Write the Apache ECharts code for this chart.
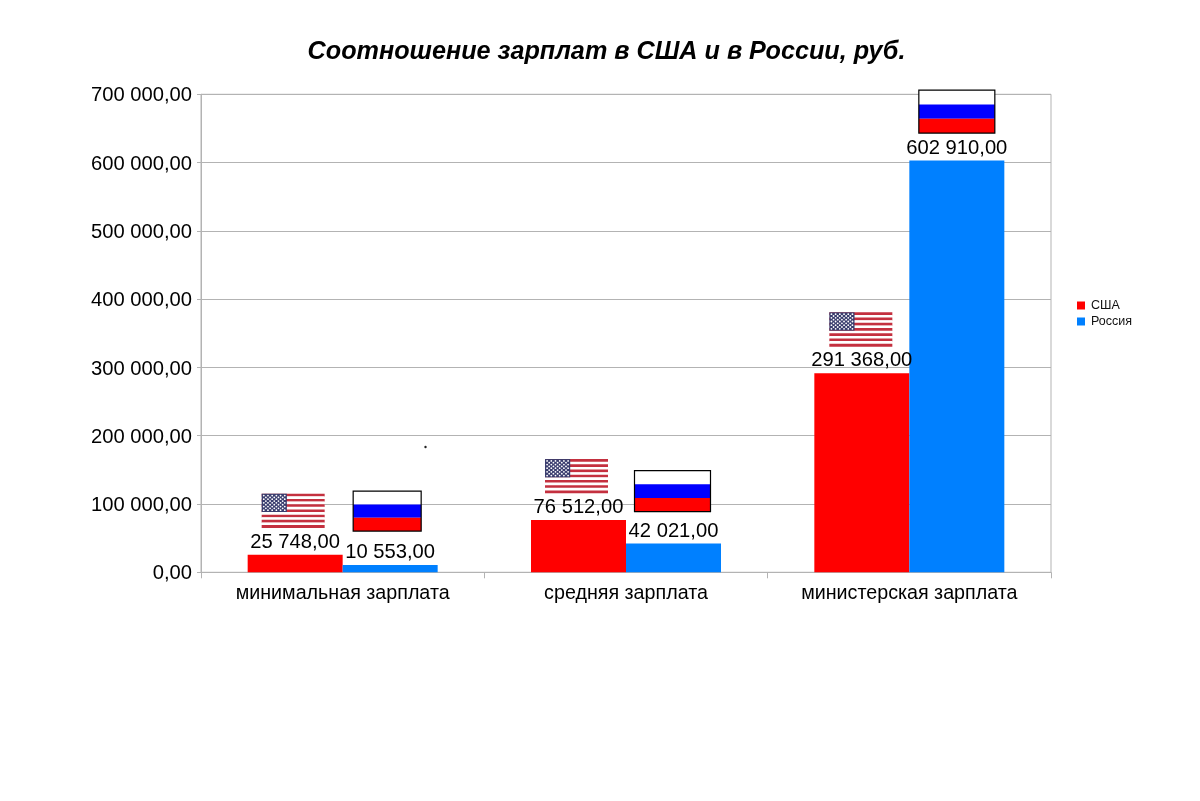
<!DOCTYPE html>
<html>
<head>
<meta charset="utf-8">
<script src="https://cdn.jsdelivr.net/npm/echarts@6/dist/echarts.min.js"></script>
<style>html,body{margin:0;background:#fff}#chart{width:1200px;height:801px}</style>
</head>
<body>
<div id="chart"></div>
<script>
const categories = ['минимальная зарплата', 'средняя зарплата', 'министерская зарплата'];
const usa = [25748, 76512, 291368];
const russia = [10553, 42021, 602910];

// flag boxes, one per bar: [shift from bar centre, gap above bar, width, height]
const usaFlags = [[-2, 27, 63, 34], [-2, 27, 63, 34], [-1, 27, 63, 34]];
const ruFlags = [[-3, 34, 68, 40], [-1, 32, 76, 41], [0, 27.5, 76, 43]];

const font = '"Liberation Sans", Arial, sans-serif';
const gridCol = '#b3b3b3';
const barW = 95;

function money(v) {
  const s = String(v).replace(/\B(?=(\d{3})+$)/g, ' ');
  return s + ',00';
}

function drawUsa(x, y, w, h) {
  const kids = [];
  const sh = h / 13;
  for (let i = 0; i < 13; i++) {
    kids.push({ type: 'rect', shape: { x: x, y: y + i * sh, width: w, height: sh + 0.3 },
      style: { fill: i % 2 ? '#ffffff' : '#c4303f' } });
  }
  const cw = w * 0.4, ch = sh * 7;
  kids.push({ type: 'rect', shape: { x: x, y: y, width: cw, height: ch }, style: { fill: '#3a3d6e' } });
  for (let r = 0; r < 9; r++) {
    const n = r % 2 ? 5 : 6;
    for (let c = 0; c < n; c++) {
      const sx = x + cw * ((r % 2 ? 2 : 1) + c * 2) / 12;
      const sy = y + ch * (r + 1) / 10;
      kids.push({ type: 'circle', shape: { cx: sx, cy: sy, r: 0.9 }, style: { fill: '#ffffff' } });
    }
  }
  return kids;
}

function drawRu(x, y, w, h) {
  const s = h / 3;
  return [
    { type: 'rect', shape: { x: x, y: y, width: w, height: s }, style: { fill: '#ffffff' } },
    { type: 'rect', shape: { x: x, y: y + s, width: w, height: s }, style: { fill: '#0000ff' } },
    { type: 'rect', shape: { x: x, y: y + 2 * s, width: w, height: s }, style: { fill: '#ff0000' } },
    { type: 'rect', shape: { x: x, y: y, width: w, height: h }, style: { fill: 'none', stroke: '#000000', lineWidth: 1.2 } }
  ];
}

function flagSeries(values, boxes, side, draw) {
  return {
    type: 'custom',
    silent: true,
    z: 5,
    clip: false,
    data: values.map((v, i) => [i, v]),
    encode: { x: 0, y: 1 },
    tooltip: { show: false },
    renderItem: function (params, api) {
      const p = api.coord([api.value(0), api.value(1)]);
      const b = boxes[params.dataIndex];
      const x = p[0] + side * barW / 2 + b[0] - b[2] / 2;
      const y = p[1] - b[1] - b[3];
      return { type: 'group', children: draw(x, y, b[2], b[3]) };
    }
  };
}

function barSeries(name, values, color) {
  return {
    name: name,
    type: 'bar',
    data: values,
    barWidth: barW,
    barGap: 0,
    itemStyle: { color: color },
    label: {
      show: true,
      position: 'top',
      distance: 2.5,
      color: '#000000',
      fontFamily: font,
      fontSize: 20.2,
      formatter: p => money(p.value)
    }
  };
}

const chart = echarts.init(document.getElementById('chart'), null, { renderer: 'canvas' });
chart.setOption({
  animation: false,
  backgroundColor: '#ffffff',
  title: {
    text: 'Соотношение зарплат в США и в России, руб.',
    left: 601.5,
    top: 35,
    textAlign: 'center',
    textStyle: { fontFamily: font, fontSize: 25.2, fontWeight: 'bold', fontStyle: 'italic', color: '#000000' }
  },
  legend: {
    data: ['США', 'Россия'],
    orient: 'vertical',
    left: 1072,
    top: 294,
    itemWidth: 8,
    itemHeight: 8,
    itemGap: 3,
    icon: 'rect',
    textStyle: { fontFamily: font, fontSize: 12.5, color: '#111111', padding: [0, 0, 0, 1] }
  },
  grid: { left: 201, top: 94.3, width: 850, height: 478, show: true, borderColor: gridCol, borderWidth: 1, backgroundColor: 'transparent' },
  xAxis: {
    type: 'category',
    data: categories,
    axisLine: { lineStyle: { color: gridCol } },
    axisTick: { show: true, alignWithLabel: false, length: 6, lineStyle: { color: gridCol } },
    axisLabel: { fontFamily: font, fontSize: 19.7, color: '#000000', margin: 11, interval: 0 }
  },
  yAxis: {
    type: 'value',
    min: 0,
    max: 700000,
    interval: 100000,
    axisLine: { show: true, lineStyle: { color: gridCol } },
    axisTick: { show: true, length: 4, lineStyle: { color: gridCol } },
    splitLine: { lineStyle: { color: gridCol, width: 1 } },
    axisLabel: { fontFamily: font, fontSize: 20.2, color: '#000000', margin: 9, verticalAlign: 'top', lineHeight: 3, formatter: v => money(v) }
  },
  // stray dot in the source picture
  graphic: [{ type: 'circle', shape: { cx: 425.5, cy: 447, r: 1.2 }, style: { fill: '#222222' } }],
  series: [
    barSeries('США', usa, '#ff0000'),
    barSeries('Россия', russia, '#0080ff'),
    flagSeries(usa, usaFlags, -1, drawUsa),
    flagSeries(russia, ruFlags, 1, drawRu)
  ]
});
</script>
</body>
</html>
